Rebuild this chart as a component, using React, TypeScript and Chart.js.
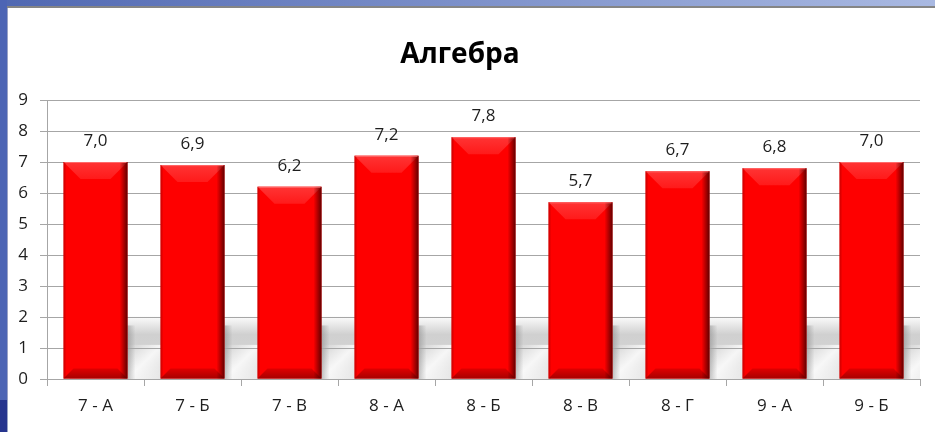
import React, { useEffect, useRef } from "react";
import { Chart, registerables } from "chart.js";

Chart.register(...registerables);

const categories = ["7 - А", "7 - Б", "7 - В", "8 - А", "8 - Б", "8 - В", "8 - Г", "9 - А", "9 - Б"];
const values = [7.0, 6.9, 6.2, 7.2, 7.8, 5.7, 6.7, 6.8, 7.0];
const valueLabels = ["7,0", "6,9", "6,2", "7,2", "7,8", "5,7", "6,7", "6,8", "7,0"];
const titleText = "Алгебра";
const yMin = 0;
const yMax = 9;

const FONT = "'Open Sans', 'Noto Sans', sans-serif";

const decorPlugin = {
  id: "decor",
  beforeDraw(chart: any) {
    const ctx = chart.ctx as CanvasRenderingContext2D;
    const W = chart.width;
    const H = chart.height;
    ctx.save();
    ctx.fillStyle = "#ffffff";
    ctx.fillRect(0, 0, W, H);
    // top band
    const g = ctx.createLinearGradient(0, 0, W, 0);
    g.addColorStop(0, "#5068b2");
    g.addColorStop(1, "#a9b9e2");
    ctx.fillStyle = g;
    ctx.fillRect(0, 0, W, 6);
    ctx.fillStyle = "#858585";
    ctx.fillRect(0, 6, W, 2);
    // left band
    ctx.fillStyle = "#4d65b4";
    ctx.fillRect(0, 0, 7, 400);
    ctx.fillStyle = "#26358e";
    ctx.fillRect(0, 400, 7, H - 400);
    ctx.fillStyle = "#9aa3c6";
    ctx.fillRect(7, 8, 1, H - 8);

    // floor shadow
    const y = chart.scales.y;
    const area = chart.chartArea;
    const meta = chart.getDatasetMeta(0);
    if (meta && meta.data.length) {
      const yTop = y.getPixelForValue(2.05);
      const yBot = y.getPixelForValue(0);
      const sg = ctx.createLinearGradient(0, yTop, 0, yBot);
      sg.addColorStop(0, "rgba(255,255,255,1)");
      sg.addColorStop(0.12, "#ececec");
      sg.addColorStop(0.3, "#d0d0d0");
      sg.addColorStop(0.55, "#d2d2d2");
      sg.addColorStop(0.75, "#d8d8d8");
      sg.addColorStop(1, "#e4e4e4");
      ctx.fillStyle = sg;
      const first = meta.data[0] as any;
      const x0 = first.x - first.width / 2 + 6;
      ctx.fillRect(x0, yTop, area.right - x0, yBot - yTop);
      for (const el of meta.data as any[]) {
        const r = el.x + el.width / 2;
        const y1 = y.getPixelForValue(1.1);
        const hg = ctx.createLinearGradient(r, y1, r + 34, yBot);
        hg.addColorStop(0, "rgba(255,255,255,0)");
        hg.addColorStop(0.5, "rgba(255,255,255,0.8)");
        hg.addColorStop(1, "rgba(255,255,255,0.1)");
        ctx.fillStyle = hg;
        ctx.fillRect(r, y1, Math.min(34, area.right - r), yBot - y1);
        const dg = ctx.createLinearGradient(r, 0, r + 8, 0);
        dg.addColorStop(0, "rgba(110,110,110,0.4)");
        dg.addColorStop(1, "rgba(110,110,110,0)");
        ctx.fillStyle = dg;
        ctx.fillRect(r, yTop + 10, 8, yBot - yTop - 10);
      }
    }
    ctx.restore();
  },
  afterDatasetsDraw(chart: any) {
    const ctx = chart.ctx as CanvasRenderingContext2D;
    const meta = chart.getDatasetMeta(0);
    ctx.save();
    meta.data.forEach((el: any, i: number) => {
      const w = el.width;
      const L = el.x - w / 2;
      const R = el.x + w / 2;
      const T = el.y;
      const B = el.base;
      const bv = 17;
      const tg = ctx.createLinearGradient(0, T, 0, T + bv);
      tg.addColorStop(0, "#ff3434");
      tg.addColorStop(1, "#ff1a1a");
      ctx.fillStyle = tg;
      ctx.beginPath();
      ctx.moveTo(L, T);
      ctx.lineTo(R, T);
      ctx.lineTo(R - bv, T + bv);
      ctx.lineTo(L + bv, T + bv);
      ctx.closePath();
      ctx.fill();
      const bb = 10;
      const bg = ctx.createLinearGradient(0, B - bb, 0, B);
      bg.addColorStop(0, "#e00000");
      bg.addColorStop(1, "#a80000");
      ctx.fillStyle = bg;
      ctx.beginPath();
      ctx.moveTo(L, B);
      ctx.lineTo(R, B);
      ctx.lineTo(R - bb, B - bb);
      ctx.lineTo(L + bb, B - bb);
      ctx.closePath();
      ctx.fill();
      const rg = ctx.createLinearGradient(R - 8, 0, R, 0);
      rg.addColorStop(0, "rgba(90,0,0,0)");
      rg.addColorStop(1, "rgba(80,0,0,0.9)");
      ctx.fillStyle = rg;
      ctx.fillRect(R - 8, T, 8, B - T);
      const lg = ctx.createLinearGradient(L, 0, L + 3, 0);
      lg.addColorStop(0, "rgba(150,0,0,0.5)");
      lg.addColorStop(1, "rgba(150,0,0,0)");
      ctx.fillStyle = lg;
      ctx.fillRect(L, T, 3, B - T);
      ctx.fillStyle = "rgba(255,120,120,0.8)";
      ctx.fillRect(L + 1, T, w - 2, 1);
      ctx.fillStyle = "#1e1e1e";
      ctx.font = `17px ${FONT}`;
      ctx.textAlign = "center";
      ctx.textBaseline = "middle";
      ctx.fillText(valueLabels[i], el.x, T - 21);
    });
    ctx.restore();
  },
};

export default function App() {
  const ref = useRef<HTMLCanvasElement | null>(null);
  useEffect(() => {
    if (!ref.current) return;
    const chart = new Chart(ref.current, {
      type: "bar",
      data: {
        labels: categories,
        datasets: [
          {
            data: values,
            backgroundColor: "#fe0000",
            borderWidth: 0,
            categoryPercentage: 1,
            barPercentage: 0.66,
          },
        ],
      },
      options: {
        animation: false,
        responsive: false,
        maintainAspectRatio: false,
        layout: { padding: { left: 0, right: 15, top: 8, bottom: 0 } },
        plugins: {
          legend: { display: false },
          tooltip: { enabled: false },
          title: {
            display: true,
            text: titleText,
            color: "#000000",
            font: { family: FONT, size: 28, weight: "bold", lineHeight: 1.2 },
            padding: { top: 30, bottom: 28.4 },
          },
        },
        scales: {
          x: {
            grid: {
              display: true,
              drawOnChartArea: false,
              drawTicks: true,
              tickLength: 7,
              color: "#a6a6a6",
              offset: true,
            },
            border: { display: true, color: "#a6a6a6", width: 1 },
            ticks: {
              color: "#1e1e1e",
              font: { family: FONT, size: 17 },
              padding: 10,
              maxRotation: 0,
            },
            afterFit(scale: any) {
              scale.height = 53;
            },
          },
          y: {
            min: yMin,
            max: yMax,
            grid: {
              color: "#a6a6a6",
              tickLength: 7,
              drawTicks: true,
            },
            border: { display: true, color: "#a6a6a6", width: 1 },
            ticks: {
              stepSize: 1,
              color: "#1e1e1e",
              font: { family: FONT, size: 17 },
              padding: 12,
            },
            afterFit(scale: any) {
              scale.width = 47;
            },
          },
        },
      },
      plugins: [decorPlugin],
    });
    return () => chart.destroy();
  }, []);
  return (
    <div style={{ position: "absolute", left: 0, top: 0, width: 935, height: 432 }}>
      <canvas ref={ref} width={935} height={432} style={{ display: "block", width: 935, height: 432 }} />
    </div>
  );
}
